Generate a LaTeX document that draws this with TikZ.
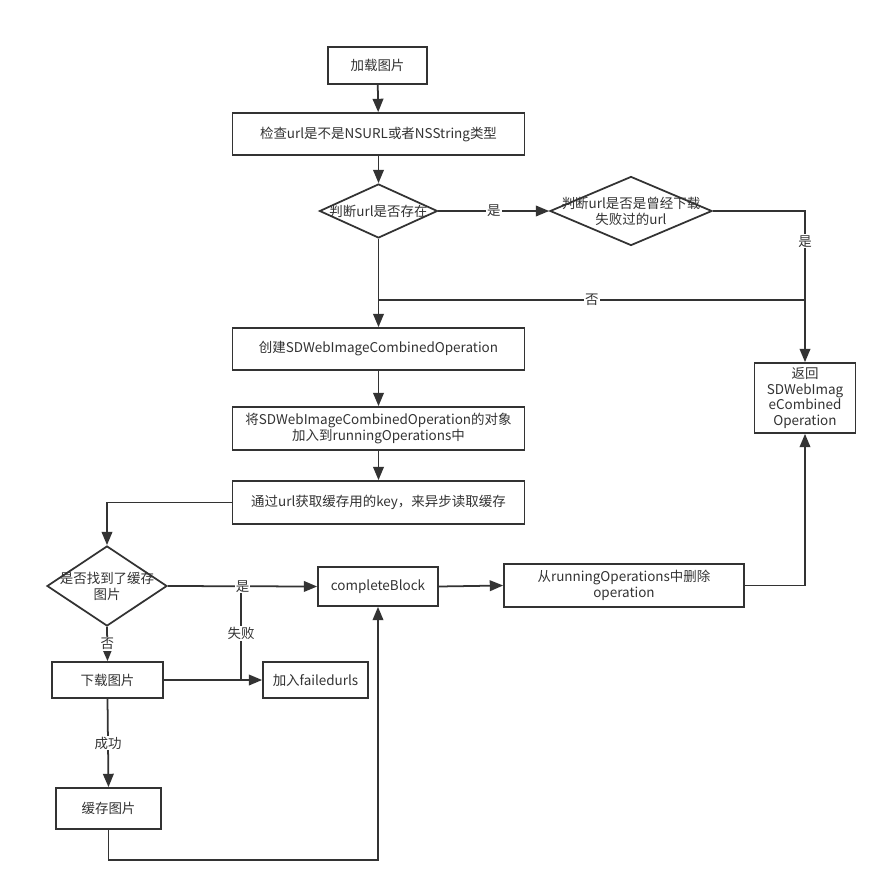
\documentclass[tikz,border=0pt]{standalone}
\usepackage{fontspec}
\setmainfont{Noto Sans CJK SC}
\usetikzlibrary{arrows.meta,shapes.geometric}
\definecolor{ink}{HTML}{333333}
\tikzset{
  box/.style={draw=ink,line width=1.5pt,text=ink,inner sep=0pt,align=center,font=\fontsize{11.5}{13.5}\selectfont},
  decision/.style={box,diamond},
  dtext/.style={text=ink,inner sep=0pt,align=center,font=\fontsize{11.5}{13.5}\selectfont},
  link/.style={draw=ink,line width=1.5pt},
  flow/.style={link,-{Triangle[length=0.4cm,width=0.32cm]}},
  tag/.style={fill=white,text=ink,inner sep=1pt,font=\fontsize{11.5}{13.5}\selectfont}
}

\begin{document}
\begin{tikzpicture}[x=0.03cm,y=-0.03cm]
            \useasboundingbox[fill=white] (0,0) rectangle (887,891);
            \node[box,minimum width=2.97cm,minimum height=1.11cm] (load) at (377.5,65.5) {加载图片};
            \node[box,minimum width=8.76cm,minimum height=1.26cm] (check) at (378.5,134) {检查url是不是NSURL或者NSString类型};
            \node[decision,minimum width=3.54cm,minimum height=1.62cm,label={[dtext]center:判断url是否存在}] (exist) at (378.5,211) {};
            \node[decision,minimum width=4.86cm,minimum height=2.07cm,label={[dtext]center:判断url是否是曾经下载\\失败过的url}] (failed) at (631,211) {};
            \node[box,minimum width=8.76cm,minimum height=1.26cm] (create) at (378.5,349) {创建SDWebImageCombinedOperation};
            \node[box,minimum width=8.76cm,minimum height=1.29cm] (add) at (378.5,428.5) {将SDWebImageCombinedOperation的对象\\加入到runningOperations中};
            \node[box,minimum width=8.76cm,minimum height=1.29cm] (key) at (378.5,502.5) {通过url获取缓存用的key，来异步读取缓存};
            \node[box,minimum width=3.03cm,minimum height=2.10cm] (ret) at (805,398) {返回\\SDWebImag\\eCombined\\Operation};
            \node[decision,minimum width=3.6cm,minimum height=2.4cm,label={[dtext]center:是否找到了缓存\\图片}] (cache) at (107,586) {};
            \node[box,minimum width=3.6cm,minimum height=1.17cm] (complete) at (378,586.5) {completeBlock};
            \node[box,minimum width=7.2cm,minimum height=1.29cm] (remove) at (624,585.5) {从runningOperations中删除\\operation};
            \node[box,minimum width=3.33cm,minimum height=1.08cm] (download) at (107.5,680) {下载图片};
            \node[box,minimum width=3.15cm,minimum height=1.08cm] (failedurls) at (315.5,680) {加入failedurls};
            \node[box,minimum width=3.15cm,minimum height=1.23cm] (save) at (108.5,808.5) {缓存图片};
            \coordinate (nofork) at (378.5,300);
            \coordinate (failfork) at (241,680);
            \draw[flow] (load) -- (check);
            \draw[flow] (check) -- (exist);
            \draw[flow] (exist.east) -- node[tag]{是} (failed.west);
            \draw[flow] (failed.east) -| node[tag,pos=0.6]{是} (ret.north);
            \draw[link] (nofork) -- node[tag]{否} (nofork -| ret.north);
            \draw[flow] (exist.south) -- (create.north);
            \draw[flow] (create) -- (add);
            \draw[flow] (add) -- (key);
            \draw[flow] (key.west) -| (cache.north);
            \draw[link] (failfork) -- node[tag]{失败} (failfork |- complete.west);
            \draw[flow] (cache.east) -- node[tag]{是} (complete.west);
            \draw[flow] (cache.south) -- node[tag]{否} (download.north);
            \draw[flow] (download.east) -- (failedurls.west);
            \draw[flow] (download.south) -- node[tag]{成功} (save.north);
            \draw[flow] (save.south) -- ++(0,30) -| (complete.south);
            \draw[flow] (complete.east) -- (remove.west);
            \draw[flow] (remove.east) -| (ret.south);
        \end{tikzpicture}
\end{document}
